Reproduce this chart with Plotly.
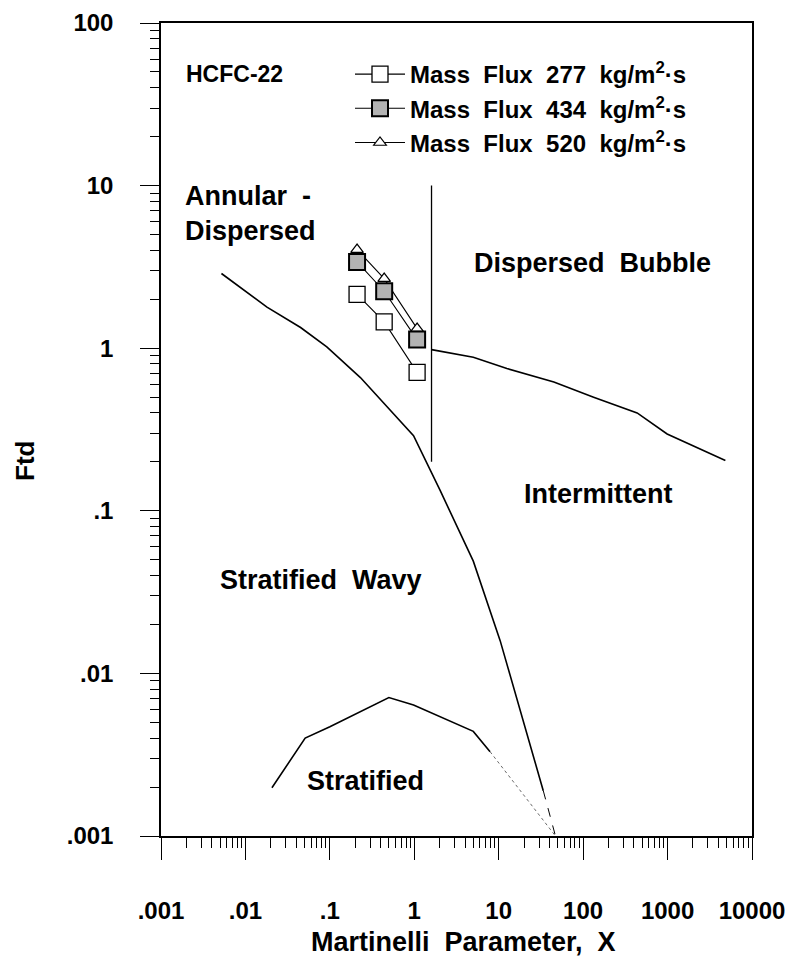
import plotly.graph_objects as go

# ---------------- data ----------------
# Regime boundary: stratified wavy / annular-intermittent (main curve)
main_x = [0.0052, 0.018, 0.045, 0.092, 0.23, 0.68, 0.98, 2.03, 5.0, 10.4, 33.7]
main_y = [2.88, 1.79, 1.34, 1.02, 0.66, 0.36, 0.29, 0.133, 0.049, 0.0159, 0.0019]
main_tail_x = [33.7, 47.0]
main_tail_y = [0.0019, 0.001]

# Stratified / stratified wavy boundary
strat_x = [0.0206, 0.051, 0.1, 0.5, 0.98, 5.0, 7.9]
strat_y = [0.00198, 0.004, 0.0047, 0.0071, 0.0064, 0.0044, 0.0033]
strat_tail_x = [7.9, 47.0]
strat_tail_y = [0.0033, 0.001]

# Dispersed bubble / intermittent boundary
bub_x = [1.6, 5.0, 12.5, 45, 133, 436, 988, 4840]
bub_y = [0.98, 0.88, 0.75, 0.62, 0.5, 0.4, 0.297, 0.204]

# Annular / intermittent vertical boundary
vert_x = [1.6, 1.6]
vert_y = [0.2, 10]

# Measured data
data_x = [0.21, 0.44, 1.08]
g277_y = [2.14, 1.45, 0.71]
g434_y = [3.39, 2.24, 1.13]
g520_y = [4.04, 2.68, 1.32]

series_names = [
    "Mass  Flux  277  kg/m<sup>2</sup>·s",
    "Mass  Flux  434  kg/m<sup>2</sup>·s",
    "Mass  Flux  520  kg/m<sup>2</sup>·s",
]

x_tickvals = [0.001, 0.01, 0.1, 1, 10, 100, 1000, 10000]
x_ticktext = [".001", ".01", ".1", "1", "10", "100", "1000", "10000"]
y_tickvals = [0.001, 0.01, 0.1, 1, 10, 100]
y_ticktext = [".001", ".01", ".1", "1", "10", "100"]

# ---------------- layout geometry ----------------
W, H = 791, 963
L, R, T, B = 161, 752, 23, 836
FONT = "Liberation Sans, Arial, Helvetica, sans-serif"


def px(xp):
    return (xp - L) / (R - L)


def py(yp):
    return (B - yp) / (B - T)


fig = go.Figure()

line_style = dict(color="black", width=1.6)
fig.add_trace(go.Scatter(x=main_x, y=main_y, mode="lines", line=line_style, showlegend=False))
fig.add_trace(go.Scatter(x=main_tail_x, y=main_tail_y, mode="lines",
                         line=dict(color="black", width=1.0, dash="dash"), showlegend=False))
fig.add_trace(go.Scatter(x=strat_x, y=strat_y, mode="lines", line=line_style, showlegend=False))
fig.add_trace(go.Scatter(x=strat_tail_x, y=strat_tail_y, mode="lines",
                         line=dict(color="#444444", width=0.8, dash="dot"), showlegend=False))
fig.add_trace(go.Scatter(x=bub_x, y=bub_y, mode="lines", line=line_style, showlegend=False))
fig.add_trace(go.Scatter(x=vert_x, y=vert_y, mode="lines", line=dict(color="black", width=1.3),
                         showlegend=False))

# data series (draw 520 first so squares overlap the triangles)
fig.add_trace(go.Scatter(
    x=data_x, y=g520_y, mode="lines+markers", name=series_names[2], legendrank=3,
    line=dict(color="black", width=1.1),
    marker=dict(symbol="triangle-up", size=11, color="white", line=dict(color="black", width=1.2)),
))
fig.add_trace(go.Scatter(
    x=data_x, y=g434_y, mode="lines+markers", name=series_names[1], legendrank=2,
    line=dict(color="black", width=1.1),
    marker=dict(symbol="square", size=16, color="#b3b3b3", line=dict(color="black", width=2)),
))
fig.add_trace(go.Scatter(
    x=data_x, y=g277_y, mode="lines+markers", name=series_names[0], legendrank=1,
    line=dict(color="black", width=1.1),
    marker=dict(symbol="square", size=16, color="white", line=dict(color="black", width=1.3)),
))

tick_font = dict(family=FONT, size=24, color="black", weight="bold")

fig.update_xaxes(
    type="log", range=[-3, 4],
    tickvals=x_tickvals, ticktext=x_ticktext,
    ticks="outside", ticklen=22, tickwidth=1.2, tickcolor="black",
    minor=dict(ticks="outside", ticklen=10, tickwidth=1, tickcolor="black", dtick="D1", showgrid=False),
    showline=True, linecolor="black", linewidth=1.5, mirror=True,
    showgrid=False, zeroline=False, tickfont=tick_font, ticklabelstandoff=30,
)
fig.update_yaxes(
    type="log", range=[-3, 2],
    tickvals=y_tickvals, ticktext=y_ticktext,
    ticks="outside", ticklen=19, tickwidth=1.2, tickcolor="black",
    minor=dict(ticks="outside", ticklen=9, tickwidth=1, tickcolor="black", dtick="D1", showgrid=False),
    showline=True, linecolor="black", linewidth=1.5, mirror=True,
    showgrid=False, zeroline=False, tickfont=tick_font, ticklabelstandoff=22,
)

ann_font = dict(family=FONT, size=27, color="black", weight="bold")
annotations = [
    dict(text="HCFC-22", x=px(184), y=py(74), xanchor="left", yanchor="middle",
         font=dict(family=FONT, size=23, color="black", weight="bold")),
    dict(text="Annular  -<br>Dispersed", x=px(183), y=py(213), xanchor="left", yanchor="middle",
         align="left", font=ann_font),
    dict(text="Dispersed  Bubble", x=px(592), y=py(263), xanchor="center", yanchor="middle", font=ann_font),
    dict(text="Intermittent", x=px(598), y=py(494), xanchor="center", yanchor="middle", font=ann_font),
    dict(text="Stratified  Wavy", x=px(321), y=py(580), xanchor="center", yanchor="middle", font=ann_font),
    dict(text="Stratified", x=px(365), y=py(781), xanchor="center", yanchor="middle", font=ann_font),
    dict(text="Ftd", x=px(25), y=py(461), xanchor="center", yanchor="middle", textangle=-90,
         font=dict(family=FONT, size=26, color="black", weight="bold")),
    dict(text="Martinelli  Parameter,  X", x=px(463), y=py(942), xanchor="center", yanchor="middle",
         font=dict(family=FONT, size=27, color="black", weight="bold")),
]
for a in annotations:
    a.update(xref="paper", yref="paper", showarrow=False)

fig.update_layout(
    width=W, height=H,
    margin=dict(l=L, r=W - R, t=T, b=H - B, autoexpand=False),
    paper_bgcolor="white", plot_bgcolor="white",
    annotations=annotations,
    showlegend=True,
    legend=dict(
        x=px(350), y=py(52), xanchor="left", yanchor="top",
        bgcolor="rgba(0,0,0,0)", borderwidth=0,
        font=dict(family=FONT, size=24, color="black", weight="bold"),
        tracegroupgap=0, itemwidth=50,
    ),
)

fig.write_html("out.html")
